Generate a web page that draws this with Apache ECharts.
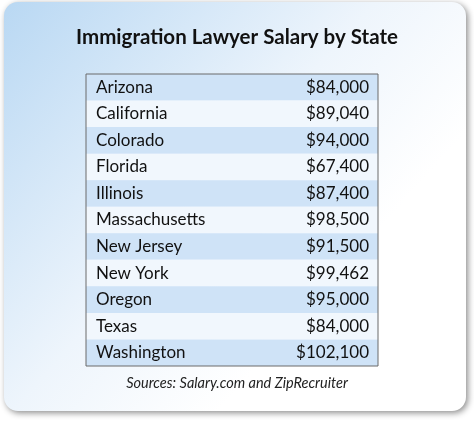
<!DOCTYPE html>
<html>
<head>
	<meta charset="utf-8">
	<title>Immigration Lawyer Salary by State</title>
	<style>
		html, body { margin: 0; padding: 0; background: #fff; }
		#main { width: 474px; height: 422px; }
	</style>
	<script src="https://cdn.jsdelivr.net/npm/echarts@6/dist/echarts.min.js"></script>
</head>
<body>
	<div id="main"></div>
	<script>
	var states = ['Arizona', 'California', 'Colorado', 'Florida', 'Illinois', 'Massachusetts',
		'New Jersey', 'New York', 'Oregon', 'Texas', 'Washington'];
	var salaries = [84000, 89040, 94000, 67400, 87400, 98500, 91500, 99462, 95000, 84000, 102100];

	var chart = echarts.init(document.getElementById('main'));

	function money(v) {
		return '$' + v.toString().replace(/\B(?=(\d{3})+(?!\d))/g, ',');
	}

	var option = {
		animation: false,
		backgroundColor: '#fff',
		graphic: [
			{
				type: 'rect', z: -10,
				shape: { x: 4, y: 2, width: 462, height: 409, r: 14 },
				style: {
					fill: new echarts.graphic.LinearGradient(0, 0, 1, 1, [
						{ offset: 0, color: '#b9d8f3' },
						{ offset: 0.45, color: '#eef5fc' },
						{ offset: 0.7, color: '#ffffff' },
						{ offset: 1, color: '#ffffff' }
					]),
					shadowBlur: 6, shadowOffsetX: 2, shadowOffsetY: 2,
					shadowColor: 'rgba(0,0,0,0.45)'
				}
			},
			{
				type: 'text', left: 'center', top: 27,
				style: { text: 'Immigration Lawyer Salary by State', fill: '#111',
					font: 'bold 20.5px Lato' }
			},
			{
				type: 'text', left: 'center', top: 376,
				style: { text: 'Sources: Salary.com and ZipRecruiter', fill: '#222',
					font: 'italic 14.5px Lato' }
			}
		],
		grid: { left: 86, right: 96, top: 74, bottom: 56, show: true,
			borderColor: '#6b6b6b', borderWidth: 1, backgroundColor: 'transparent', z: 5 },
		xAxis: { type: 'value', min: 0, max: 1, show: false },
		yAxis: { type: 'category', data: states, inverse: true, show: false },
		series: [{
			type: 'custom',
			data: states.map(function (s, i) { return [i, salaries[i]]; }),
			encode: { y: 0 },
			renderItem: function (params, api) {
				var i = api.value(0);
				var p0 = api.coord([0, i]);
				var p1 = api.coord([1, i]);
				var h = api.size([0, 1])[1];
				return {
					type: 'group',
					children: [
						{ type: 'rect', shape: { x: p0[0], y: p0[1] - h / 2, width: p1[0] - p0[0], height: h },
							style: { fill: i % 2 === 0 ? '#cfe3f7' : '#f1f7fd' } },
						{ type: 'text', style: { x: p0[0] + 10, y: p0[1], text: states[i],
							textVerticalAlign: 'middle', fill: '#111', font: '17px Lato' } },
						{ type: 'text', style: { x: p1[0] - 9, y: p0[1], text: money(api.value(1)),
							textAlign: 'right', textVerticalAlign: 'middle', fill: '#111', font: '17px Lato' } }
					]
				};
			}
		}]
	};
	chart.setOption(option);
	</script>
</body>
</html>
